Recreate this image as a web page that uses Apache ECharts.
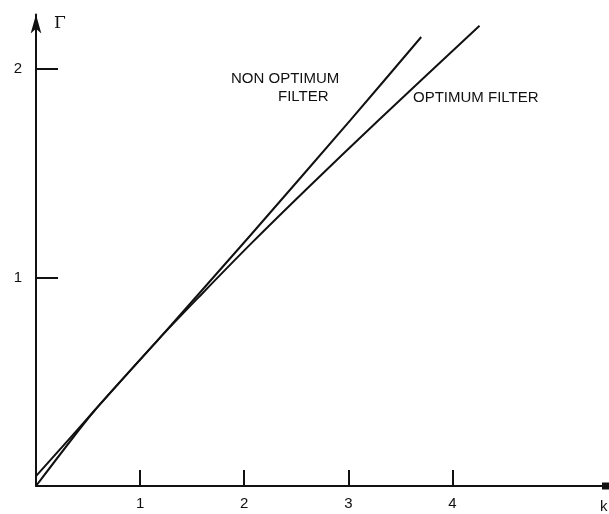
<!DOCTYPE html>
<html>
<head>
<meta charset="utf-8">
<script src="https://cdn.jsdelivr.net/npm/echarts@6/dist/echarts.min.js"></script>
<style>
html,body{margin:0;padding:0;background:#fff;}
#c{width:609px;height:514px;}
</style>
</head>
<body>
<div id="c"></div>
<script>
// Data
const xTicks = [1, 2, 3, 4];
const yTicks = [1, 2];
const kOptimum = [0, 0.55, 1.17, 1.6, 2.07, 2.6, 3.29, 4.26];
const gammaOptimum = [0.047, 0.355, 0.70, 0.925, 1.165, 1.425, 1.755, 2.208];
const kNonOptimum = [0, 0.55, 1.17, 2.06, 3.02, 3.70];
const gammaNonOptimum = [0, 0.355, 0.70, 1.203, 1.755, 2.154];
const seriesNames = ['OPTIMUM FILTER', 'NON OPTIMUM FILTER'];

const chart = echarts.init(document.getElementById('c'), null, {renderer: 'canvas'});
const font = '"Liberation Sans", Arial, sans-serif';
const ink = '#111';

chart.setOption({
  backgroundColor: '#fff',
  animation: false,
  grid: {left: 36, top: 14.5, right: 3.5, bottom: 28, containLabel: false},
  xAxis: {
    type: 'value', min: 0, max: 5.47,
    splitLine: {show: false},
    axisLine: {show: true, lineStyle: {color: ink, width: 2}, symbol: ['none', 'rect'], symbolSize: [7, 7]},
    axisTick: {show: true, inside: true, length: 16, customValues: xTicks, lineStyle: {color: ink, width: 2}},
    axisLabel: {show: true, customValues: xTicks, margin: 10, fontSize: 15, color: ink, fontFamily: font}
  },
  yAxis: {
    type: 'value', min: 0, max: 2.262,
    splitLine: {show: false},
    axisLine: {show: true, lineStyle: {color: ink, width: 2}, symbol: ['none', 'arrow'], symbolSize: [8, 19]},
    axisTick: {show: true, inside: true, length: 22, customValues: yTicks, lineStyle: {color: ink, width: 2}},
    axisLabel: {show: true, customValues: yTicks, margin: 14, fontSize: 15, color: ink, fontFamily: font}
  },
  series: [
    {
      name: seriesNames[0], type: 'line', smooth: 0.3, symbol: 'none',
      lineStyle: {color: ink, width: 2},
      data: kOptimum.map((k, i) => [k, gammaOptimum[i]])
    },
    {
      name: seriesNames[1], type: 'line', smooth: 0.2, symbol: 'none',
      lineStyle: {color: ink, width: 2},
      data: kNonOptimum.map((k, i) => [k, gammaNonOptimum[i]])
    }
  ],
  graphic: [
    {type: 'text', left: 231, top: 71, style: {text: 'NON OPTIMUM', font: '15px ' + font, fill: ink}},
    {type: 'text', left: 278, top: 89, style: {text: 'FILTER', font: '15px ' + font, fill: ink}},
    {type: 'text', left: 413, top: 90, style: {text: 'OPTIMUM FILTER', font: '15px ' + font, fill: ink}},
    {type: 'text', left: 54, top: 15, style: {text: 'Γ', font: '17px "DejaVu Serif", serif', fill: ink}},
    {type: 'text', left: 600, top: 499, style: {text: 'k', font: '15px ' + font, fill: ink}}
  ]
});
</script>
</body>
</html>
